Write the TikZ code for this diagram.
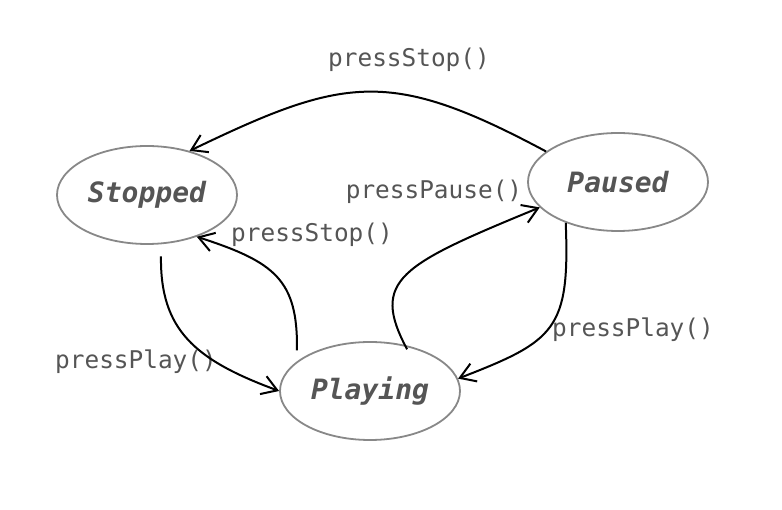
\documentclass[tikz,border=0pt]{standalone}
\usepackage{fontspec}
\setmonofont{DejaVu Sans Mono}
\usetikzlibrary{shapes.geometric,arrows.meta}
\definecolor{txtgray}{HTML}{555555}
\definecolor{linegray}{HTML}{888888}
\tikzset{
  state/.style={ellipse, draw=linegray, line width=1.8pt, fill=white,
    minimum width=180pt, minimum height=98pt, inner sep=0pt,
    text=txtgray, font=\fontsize{28}{30}\selectfont\ttfamily\bfseries\itshape},
  trans/.style={draw=black, line width=2pt,
    -{Straight Barb[length=15pt,width=19pt]}},
  lbl/.style={text=txtgray, inner sep=0pt,
    font=\fontsize{24.4}{26}\selectfont\ttfamily}
}
\begin{document}
\begin{tikzpicture}[x=1pt,y=-1pt]
\useasboundingbox (0,0) rectangle (782,510);
\node[state] (stopped) at (147,195) {Stopped};
\node[state] (paused) at (618,182) {Paused};
\node[state] (playing) at (370,391) {Playing};

\node[lbl] (l1) at (409,60) {pressStop()};
\node[lbl] (l2) at (312,235) {pressStop()};
\node[lbl] (l3) at (136,362) {pressPlay()};
\node[lbl] (l4) at (434,192) {pressPause()};
\node[lbl] (l5) at (633,330) {pressPlay()};

% Paused -> Stopped (top)
\draw[trans] (paused.157) .. controls (390,68) and (345,76) .. (stopped.46);
% Playing -> Stopped
\draw[trans,shorten <=11pt] (playing.158) .. controls (298,280) and (275,262) .. (stopped.-40.5);
% Stopped -> Playing
\draw[trans,shorten <=12pt] (stopped.-74) .. controls (160,330) and (195,360) .. (playing.180);
% Playing -> Paused
\draw[trans,shorten <=-5pt] (playing.53) .. controls (370,280) and (400,265) .. (paused.-162.6);
% Paused -> Playing
\draw[trans] (paused.-142.7) .. controls (570,330) and (555,341) .. (playing.8);
\end{tikzpicture}
\end{document}
